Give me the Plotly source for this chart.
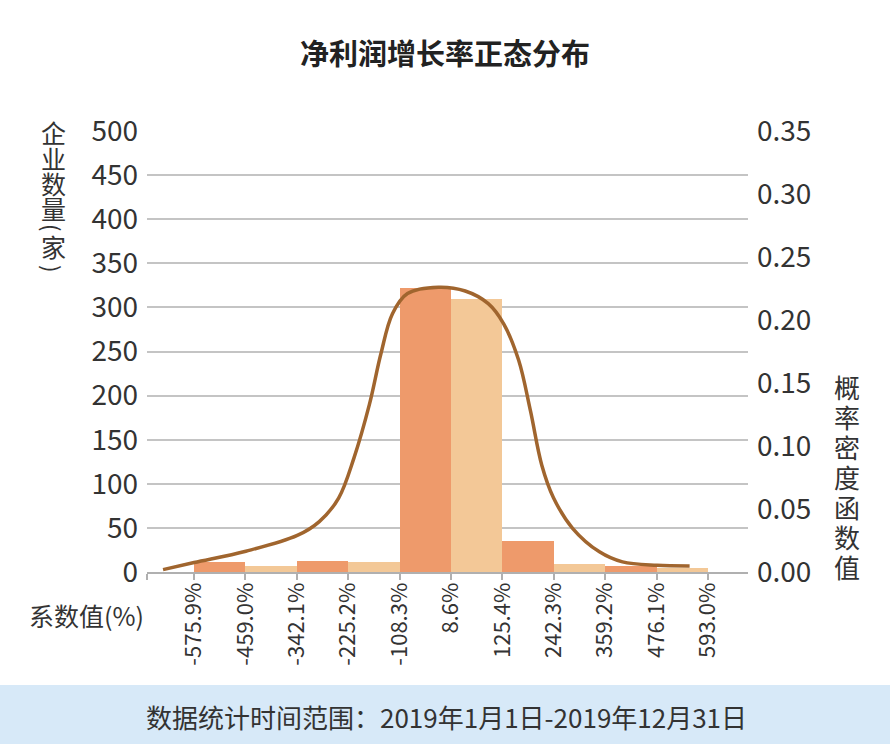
import plotly.graph_objects as go

# ---- data ----
bin_edges = [-575.9, -459.0, -342.1, -225.2, -108.3, 8.6, 125.4, 242.3, 359.2, 476.1, 593.0]
edge_labels = ["-575.9%", "-459.0%", "-342.1%", "-225.2%", "-108.3%", "8.6%",
               "125.4%", "242.3%", "359.2%", "476.1%", "593.0%"]
counts = [11, 7, 12, 11, 322, 309, 35, 9, 7, 5]

curve_x = [-646.5, -575.9, -458.1, -341.2, -291.1, -247.1, -212.2, -177.1, -151.1, -124.7,
           -90.5, -20.3, 40.8, 93.2, 128.3, 162.4, 189.1, 214.8, 241.5, 285.0, 346.1,
           398.5, 476.9, 551.2]
curve_y = [0.0019, 0.0075, 0.0165, 0.029, 0.040, 0.0587, 0.0906, 0.133, 0.173, 0.205,
           0.221, 0.226, 0.223, 0.213, 0.197, 0.168, 0.128, 0.085, 0.059, 0.0347, 0.016,
           0.008, 0.0053, 0.0048]

title_text = "净利润增长率正态分布"
left_title = ["企", "业", "数", "量", "(", "家", ")"]
right_title = list("概率密度函数值")
x_title = "系数值(%)"
footer = "数据统计时间范围：2019年1月1日-2019年12月31日"

# ---- style ----
W, H = 890, 744
L, R, T, B = 147, 142, 131, 172
FONT = "Noto Sans CJK SC"
TXT = "#333333"
DARK = "#EE9A6B"
LIGHT = "#F3C897"
LINE = "#A0652E"
GRID = "#C4C4C4"

mids = [(bin_edges[i] + bin_edges[i + 1]) / 2 for i in range(len(counts))]
widths = [bin_edges[i + 1] - bin_edges[i] for i in range(len(counts))]
colors = [DARK if i % 2 == 0 else LIGHT for i in range(len(counts))]

fig = go.Figure()
fig.add_trace(go.Bar(x=mids, y=counts, width=widths, marker=dict(color=colors, line=dict(width=0)),
                     showlegend=False, hoverinfo="skip"))
fig.add_trace(go.Scatter(x=curve_x, y=curve_y, yaxis="y2", mode="lines",
                         line=dict(color=LINE, width=3.5, shape="spline", smoothing=1.0),
                         showlegend=False, hoverinfo="skip"))

x_lo, x_hi = -683, 684


def px(xp, yp):
    return (xp - L) / (W - L - R), (H - B - yp) / (H - T - B)


annotations = []
xx, yy = px(445, 52)
annotations.append(dict(text=f"<b>{title_text}</b>", x=xx, y=yy, xref="paper", yref="paper",
                        showarrow=False, xanchor="center", yanchor="middle",
                        font=dict(family=FONT, size=29, color="#222222")))

left_y = [132, 158, 183, 208, 227, 246, 268]
for ch, yc in zip(left_title, left_y):
    xx, yy = px(53, yc)
    small = ch in "()"
    annotations.append(dict(text=ch, x=xx, y=yy, xref="paper", yref="paper", showarrow=False,
                            textangle=90 if small else 0,
                            font=dict(family=FONT, size=22 if small else 25, color=TXT),
                            xanchor="center", yanchor="middle"))
for i, ch in enumerate(right_title):
    yc = 386 + i * 30
    xx, yy = px(847, yc)
    annotations.append(dict(text=ch, x=xx, y=yy, xref="paper", yref="paper", showarrow=False,
                            font=dict(family=FONT, size=26, color=TXT), xanchor="center", yanchor="middle"))
xx, yy = px(86, 615)
annotations.append(dict(text=x_title, x=xx, y=yy, xref="paper", yref="paper", showarrow=False,
                        font=dict(family=FONT, size=25, color=TXT), xanchor="center", yanchor="middle"))
xx, yy = px(446, 716)
annotations.append(dict(text=footer, x=xx, y=yy, xref="paper", yref="paper", showarrow=False,
                        font=dict(family=FONT, size=26, color=TXT), xanchor="center", yanchor="middle"))

x0, y0 = px(0, 685)
x1, y1 = px(W, H)
shapes = [dict(type="rect", xref="paper", yref="paper", x0=x0, x1=x1, y0=y0, y1=y1,
               fillcolor="#D7E9F8", line=dict(width=0), layer="below")]

fig.update_layout(
    width=W, height=H,
    margin=dict(l=L, r=R, t=T, b=B),
    paper_bgcolor="white", plot_bgcolor="white",
    bargap=0,
    font=dict(family=FONT, color=TXT),
    xaxis=dict(range=[x_lo, x_hi], tickmode="array",
               tickvals=[x_lo] + bin_edges, ticktext=[""] + edge_labels,
               tickangle=-90, tickfont=dict(size=22, color=TXT),
               ticks="outside", ticklen=6, tickcolor="#B0B0B0", tickwidth=2,
               ticklabelstandoff=-6,
               showline=True, linecolor="#B0B0B0", linewidth=2,
               showgrid=False, zeroline=False, fixedrange=True),
    yaxis=dict(range=[0, 500], tickvals=list(range(0, 501, 50)),
               tickfont=dict(size=28, color=TXT), showgrid=True, gridcolor=GRID, gridwidth=1.5,
               zeroline=False, ticks="", ticklabelstandoff=8, fixedrange=True),
    yaxis2=dict(range=[0, 0.35], overlaying="y", side="right",
                tickvals=[0, 0.05, 0.10, 0.15, 0.20, 0.25, 0.30, 0.35],
                ticktext=["0.00", "0.05", "0.10", "0.15", "0.20", "0.25", "0.30", "0.35"],
                tickfont=dict(size=28, color=TXT), showgrid=False, zeroline=False,
                ticks="", ticklabelstandoff=8, fixedrange=True),
    annotations=annotations,
    shapes=shapes,
)

fig.write_html("out.html", config={"displayModeBar": False},
               post_script="document.body.style.margin='0';document.body.style.overflow='hidden';")
